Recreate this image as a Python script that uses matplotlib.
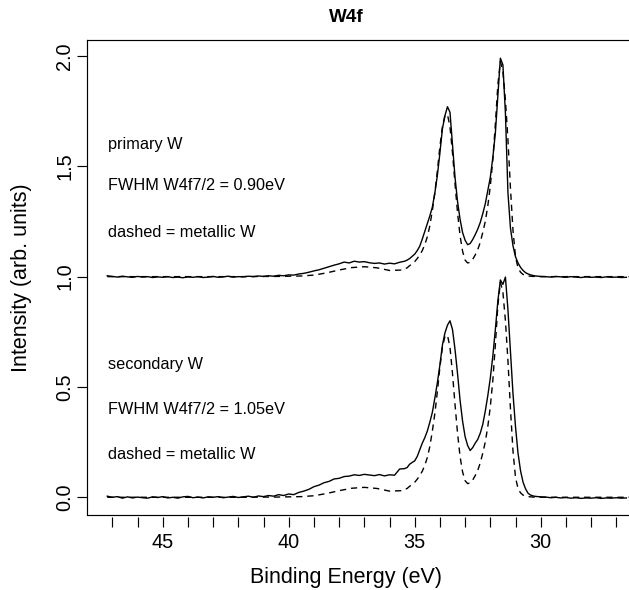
import matplotlib
matplotlib.use("Agg")
import matplotlib.pyplot as plt
import numpy as np

plt.rcParams['font.family'] = ['Liberation Sans', 'DejaVu Sans']

# binding energy grid for the measured spectra (eV)
E_meas = ([47.2, 47.0, 46.8, 46.6, 46.4, 46.2, 46.0,
           45.8, 45.6, 45.4, 45.2, 45.0, 44.8, 44.6, 44.4, 44.2, 44.0,
           43.8, 43.6, 43.4, 43.2, 43.0, 42.8, 42.6, 42.4, 42.2, 42.0,
           41.8, 41.6, 41.4, 41.2, 41.0, 40.8, 40.6, 40.4, 40.2, 40.0,
           39.8, 39.6, 39.4, 39.2, 39.0, 38.8, 38.6, 38.4, 38.2, 38.0,
           37.8, 37.6, 37.4, 37.2, 37.0, 36.8, 36.6, 36.4, 36.2, 36.0,
           35.8, 35.6, 35.4]
          + [35.3, 35.2, 35.1, 35.0, 34.9, 34.8, 34.7, 34.6, 34.5, 34.4,
             34.3, 34.2, 34.1, 34.0, 33.9, 33.8, 33.7, 33.6, 33.5, 33.4,
             33.3, 33.2, 33.1, 33.0, 32.9, 32.8, 32.7, 32.6, 32.5, 32.4,
             32.3, 32.2, 32.1, 32.0, 31.9, 31.8, 31.7, 31.6, 31.5, 31.4,
             31.3, 31.2, 31.1, 31.0, 30.9, 30.8, 30.7, 30.6, 30.5, 30.4,
             30.3, 30.2, 30.1, 30.0]
          + [29.8, 29.6, 29.4, 29.2, 29.0, 28.8, 28.6, 28.4, 28.2, 28.0,
             27.8, 27.6, 27.4, 27.2, 27.0, 26.8, 26.6])

# primary W (already offset by +1)
primary = ([1.004, 1.001, 0.998, 1.002, 0.999, 0.997, 1.001,
            0.998, 1.000, 0.996, 0.999, 0.997, 1.000, 0.996, 0.998, 0.995, 0.999,
            0.997, 1.000, 0.996, 0.998, 1.001, 0.997, 0.999, 1.002, 0.998, 1.000,
            0.999, 1.002, 1.000, 1.003, 1.001, 1.004, 1.002, 1.006, 1.004, 1.008,
            1.007, 1.012, 1.015, 1.020, 1.026, 1.031, 1.038, 1.045, 1.052, 1.058,
            1.066, 1.062, 1.070, 1.066, 1.068, 1.063, 1.060, 1.062, 1.057, 1.061,
            1.058, 1.065, 1.070]
           + [1.075, 1.082, 1.092, 1.102, 1.118, 1.138, 1.170, 1.205, 1.240, 1.275,
              1.315, 1.380, 1.460, 1.560, 1.670, 1.730, 1.770, 1.745, 1.600, 1.450,
              1.340, 1.260, 1.200, 1.165, 1.145, 1.150, 1.168, 1.190, 1.215, 1.245,
              1.285, 1.330, 1.390, 1.450, 1.540, 1.650, 1.820, 1.990, 1.960, 1.740,
              1.380, 1.220, 1.140, 1.090, 1.062, 1.042, 1.028, 1.018, 1.012, 1.008,
              1.005, 1.003, 1.002, 1.001]
           + [1.000, 0.998, 1.001, 0.999, 0.997, 1.000, 0.998, 0.996, 0.999, 0.997,
              0.998, 0.996, 0.999, 0.997, 0.998, 0.996, 0.997])

# secondary W
secondary = ([0.005, 0.000, 0.003, -0.004, 0.002, -0.003, 0.001,
              -0.002, -0.004, 0.002, -0.001, 0.003, -0.003, 0.000, -0.004, 0.002, 0.004,
              -0.002, 0.001, -0.003, 0.002, 0.000, 0.003, -0.002, 0.001, 0.004, -0.001,
              0.002, 0.005, 0.000, 0.006, 0.003, 0.008, 0.005, 0.012, 0.008, 0.015,
              0.012, 0.022, 0.028, 0.036, 0.048, 0.055, 0.066, 0.072, 0.083, 0.086,
              0.094, 0.096, 0.102, 0.099, 0.104, 0.101, 0.098, 0.103, 0.097, 0.102,
              0.100, 0.128, 0.130]
             + [0.135, 0.150, 0.158, 0.165, 0.185, 0.215, 0.245, 0.270, 0.300, 0.340,
                0.385, 0.450, 0.520, 0.600, 0.690, 0.745, 0.780, 0.800, 0.760, 0.670,
                0.560, 0.440, 0.345, 0.275, 0.235, 0.212, 0.225, 0.245, 0.262, 0.290,
                0.330, 0.390, 0.460, 0.540, 0.640, 0.760, 0.890, 0.985, 0.965, 0.998,
                0.850, 0.660, 0.470, 0.320, 0.200, 0.120, 0.068, 0.038, 0.018, 0.010,
                0.006, 0.004, 0.003, 0.002]
             + [0.001, -0.002, 0.000, -0.003, -0.001, -0.004, -0.002, -0.005, -0.003,
                -0.004, -0.002, -0.005, -0.003, -0.004, -0.002, -0.004, -0.003])

# metallic W reference (dashed)
E_metal = ([47.2, 46.5, 46.0, 45.0, 44.0, 43.0, 42.0, 41.0, 40.5, 40.0,
            39.5, 39.0, 38.5, 38.0, 37.5, 37.0, 36.5, 36.0, 35.5]
           + [35.3, 35.2, 35.1, 35.0, 34.9, 34.8, 34.7, 34.6, 34.5, 34.4,
              34.3, 34.2, 34.1, 34.0, 33.9, 33.8, 33.7, 33.6, 33.5, 33.4,
              33.3, 33.2, 33.1, 33.0, 32.9, 32.8, 32.7, 32.6, 32.5, 32.4,
              32.3, 32.2, 32.1, 32.0, 31.9, 31.8, 31.7, 31.6, 31.5, 31.4,
              31.3, 31.2, 31.1, 31.0, 30.9, 30.8, 30.7, 30.6, 30.5, 30.4,
              30.3, 30.2, 30.1, 30.0]
           + [29.5, 29.0, 28.0, 27.0, 26.0, 25.0])
metallic = ([0.0, 0.0, 0.0, 0.0, 0.0, 0.0, 0.0, 0.001, 0.001, 0.002,
             0.003, 0.007, 0.017, 0.030, 0.041, 0.045, 0.040, 0.028, 0.030]
            + [0.040, 0.050, 0.058, 0.068, 0.082, 0.098, 0.118, 0.145, 0.180, 0.230,
               0.300, 0.380, 0.480, 0.590, 0.680, 0.730, 0.735, 0.680, 0.560, 0.420,
               0.290, 0.185, 0.115, 0.075, 0.062, 0.065, 0.078, 0.098, 0.122, 0.155,
               0.200, 0.250, 0.320, 0.410, 0.530, 0.690, 0.870, 0.975, 0.930, 0.800,
               0.620, 0.400, 0.210, 0.090, 0.040, 0.020, 0.010, 0.005, 0.003, 0.002,
               0.001, 0.001, 0.000, 0.000]
            + [0.0, 0.0, 0.0, 0.0, 0.0, 0.0])
offset = 1.0

xticks = list(range(47, 25, -1))
xticklabels = [str(t) if t % 5 == 0 else '' for t in xticks]
yticks = [0.0, 0.5, 1.0, 1.5, 2.0]
yticklabels = ['0.0', '0.5', '1.0', '1.5', '2.0']

notes_top = ['primary W', 'FWHM W4f7/2 = 0.90eV', 'dashed = metallic W']
notes_bot = ['secondary W', 'FWHM W4f7/2 = 1.05eV', 'dashed = metallic W']
note_y_top = [1.597, 1.411, 1.198]
note_y_bot = [0.600, 0.396, 0.192]

fig = plt.figure(figsize=(6.29, 5.9), dpi=100)
W, H = 629, 590
ax = fig.add_axes([86.7 / W, 1 - 514.5 / H, (660 - 86.7) / W, (514.5 - 40) / H])

lw = 1.0
ax.plot(E_meas, primary, color='black', lw=lw)
ax.plot(E_meas, secondary, color='black', lw=lw)
ax.plot(E_metal, np.array(metallic) + offset, color='black', lw=lw, dashes=(4.5, 3.5))
ax.plot(E_metal, metallic, color='black', lw=lw, dashes=(4.5, 3.5))

ax.set_xlim(48.016, 25.266)
ax.set_ylim(-0.078, 2.0725)

for s in ['top', 'left', 'right']:
    ax.spines[s].set_linewidth(0.85)
ax.spines['bottom'].set_position(('outward', 2))
ax.spines['bottom'].set_visible(False)
ax.plot([0, 1], [0, 0], transform=ax.transAxes, color='black', lw=0.85,
        clip_on=False, solid_capstyle='butt')

ax.set_xticks(xticks)
ax.set_xticklabels(xticklabels)
ax.set_yticks(yticks)
ax.set_yticklabels(yticklabels, rotation=90, va='center')
ax.tick_params(axis='both', direction='out', length=7, width=0.85,
               labelsize=14.3, color='black')
ax.tick_params(axis='x', pad=4)
ax.tick_params(axis='y', pad=2)

for txt, yy in zip(notes_top, note_y_top):
    ax.text(47.17, yy, txt, fontsize=11.7, va='center', ha='left')
for txt, yy in zip(notes_bot, note_y_bot):
    ax.text(47.17, yy, txt, fontsize=11.7, va='center', ha='left')

ax.set_xlabel('Binding Energy (eV)', fontsize=15.5, va='center')
ax.xaxis.set_label_coords((346 - 86.7) / (660 - 86.7), (514.5 - 577) / 474.5)
ax.set_ylabel('Intensity (arb. units)', fontsize=15.5, va='center')
ax.yaxis.set_label_coords((22 - 86.7) / (660 - 86.7), 0.5)

fig.text(346 / W, 1 - 17 / H, 'W4f', fontsize=13.6, fontweight='bold',
         ha='center', va='center')

fig.savefig('out.png', dpi=100)
